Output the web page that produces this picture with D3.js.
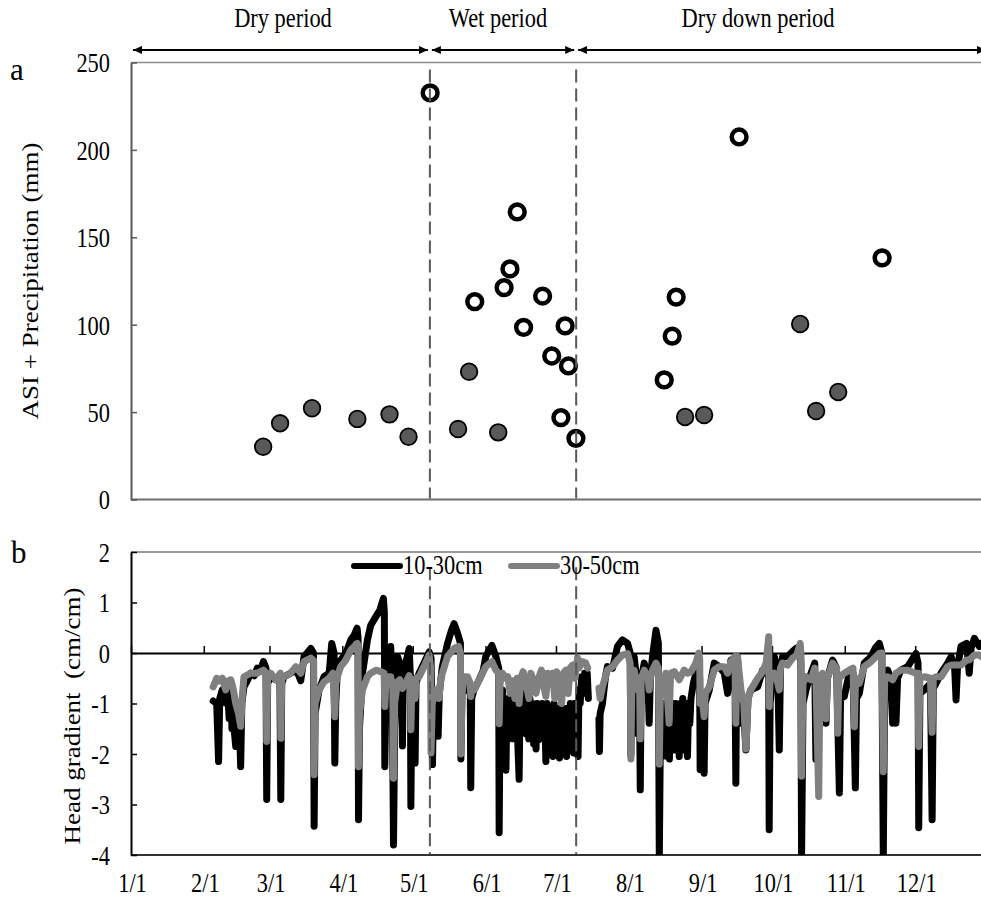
<!DOCTYPE html>
<html>
<head>
<meta charset="utf-8">
<script src="https://cdn.jsdelivr.net/npm/d3@7"></script>
<style>
  body { margin: 0; background: #fff; }
  svg { display: block; }
</style>
</head>
<body>
<svg id="chart" width="981" height="898"></svg>
<script>
// ---- data (day of year, value) ----
var monthLabels = ["1/1","2/1","3/1","4/1","5/1","6/1","7/1","8/1","9/1","10/1","11/1","12/1"];
var periodNames = ["Dry period", "Wet period", "Dry down period"];
var periodStart = [0, 127.3, 189.6];
var periodEnd   = [127.3, 189.6, 365];
var periodBreaks = [127.3, 189.6];

// ASI + precipitation events, filled and open markers
var filledDoy = [56.3, 63.5, 77.1, 96.4, 110.1, 118.2, 139.3, 144.0, 156.4, 236.0, 244.1, 285.0, 291.8, 301.2];
var filledAsi = [30.2, 43.6, 52.2, 46.1, 48.7, 35.9, 40.3, 73.1, 38.4, 47.2, 48.3, 100.4, 50.6, 61.5];
var openDoy = [127.4, 146.4, 158.9, 161.4, 164.5, 167.2, 175.3, 179.2, 183.1, 184.9, 186.3, 189.5, 227.1, 230.5, 232.2, 259.0, 319.9];
var openAsi = [232.6, 113.2, 121.2, 131.9, 164.5, 98.5, 116.4, 82.1, 46.8, 99.3, 76.4, 35.0, 68.4, 93.5, 115.8, 207.4, 138.2];

var seriesNames = ["10-30cm", "30-50cm"];
var seriesColors = ["#000000", "#808080"];

// head gradient, 10-30 cm  [day of year, cm/cm]
var grad1030 = [
[35.0,-0.95],[36.5,-1.0],[37.3,-2.15],[37.8,-0.9],[38.9,-0.73],[40.3,-0.99],[41.2,-0.8],[41.8,-1.3],[42.5,-0.73],[43.0,-1.5],[43.5,-1.0],[44.1,-1.6],[44.6,-1.85],[45.1,-1.2],[45.6,-1.7],[46.1,-1.3],[46.7,-2.25],[47.2,-1.0],[48.1,-0.67],[49.5,-0.55],[51.0,-0.4],[52.5,-0.45],[53.8,-0.3],[55.0,-0.35],[56.4,-0.17],[57.5,-0.3],[57.8,-2.9],[58.2,-0.6],[59.5,-0.47],[61.6,-0.53],[63.4,-0.45],[63.8,-2.9],[64.2,-0.6],[65.2,-0.47],[68.0,-0.4],[70.2,-0.34],[71.5,-0.45],[72.3,-0.55],[73.7,-0.07],[75.0,0.0],[76.6,0.09],[77.7,0.0],[78.0,-3.43],[78.4,-1.2],[80.1,-0.73],[82.2,-0.47],[84.4,-0.4],[85.5,0.19],[86.5,0.0],[86.8,-2.18],[87.2,-1.0],[87.9,-0.34],[89.3,-0.14],[91.5,-0.01],[93.6,0.26],[95.0,0.35],[96.3,0.49],[96.7,0.3],[96.9,-3.3],[97.3,-1.5],[98.6,-0.4],[100.7,0.26],[102.1,0.55],[104.3,0.72],[106.0,0.85],[107.5,1.08],[107.9,0.8],[108.1,-2.25],[108.5,-1.0],[109.2,-0.3],[110.6,0.13],[111.3,-0.8],[111.8,-3.8],[112.3,-1.5],[113.5,-0.07],[114.5,-0.2],[115.4,-0.3],[115.6,-1.84],[116.0,-0.4],[117.0,-0.2],[118.5,0.09],[119.0,-0.5],[119.2,-3.04],[119.6,-1.0],[120.5,-0.5],[121.0,-2.18],[121.4,-0.6],[122.7,-0.4],[124.8,-0.2],[127.0,0.02],[127.8,-0.1],[128.4,-2.21],[128.8,-1.0],[129.8,-0.9],[130.8,-1.65],[131.3,-0.8],[132.6,-0.27],[134.8,0.19],[136.5,0.45],[137.6,0.58],[139.0,0.4],[140.3,0.2],[140.5,-2.1],[141.0,-0.7],[141.9,-0.6],[143.3,-0.73],[144.5,-0.8],[144.7,-2.67],[145.1,-0.9],[146.1,-0.73],[148.3,-0.53],[150.0,-0.35],[151.1,-0.07],[153.7,0.15],[155.4,-0.07],[156.6,-0.3],[156.8,-3.56],[157.2,-1.0],
[158.2,-0.73],[158.8,-1.3],[159.3,-0.9],[159.7,-2.32],[160.1,-1.0],[160.6,-1.6],[161.0,-0.9],[161.5,-1.4],[162.0,-0.85],[162.5,-1.7],[163.0,-1.0],[163.5,-1.5],[164.0,-0.9],[164.6,-1.6],[165.3,-2.5],[165.7,-1.0],[166.2,-1.4],[166.8,-0.8],[167.3,-1.3],[167.8,-0.9],[168.3,-1.6],[168.8,-1.0],[169.4,-1.7],[169.9,-0.9],[170.4,-1.4],[171.0,-1.0],[171.5,-1.8],[172.0,-1.1],[172.5,-1.9],[173.0,-1.0],[173.6,-1.72],[174.1,-1.1],[174.6,-1.5],[175.1,-1.0],[175.6,-1.6],[176.2,-1.1],[176.7,-2.15],[177.2,-1.0],[177.7,-1.8],[178.2,-1.2],[178.8,-1.9],[179.3,-1.1],[179.7,-2.05],[180.2,-1.0],[180.7,-1.7],[181.2,-1.2],[181.7,-1.8],[182.1,-1.1],[182.5,-2.08],[183.0,-1.1],[183.5,-1.7],[184.0,-1.2],[184.6,-1.8],[185.1,-1.1],[185.5,-2.05],[186.0,-1.1],[186.6,-1.6],[187.1,-1.0],[187.6,-1.8],[188.1,-1.2],[188.5,-1.98],[189.0,-1.0],[189.5,-1.5],[190.0,-1.1],[190.4,-2.05],[190.8,-0.73],[191.3,-1.0],[192.0,-0.47],[192.5,-0.8],[193.2,-0.4],[193.7,-0.6],[194.3,-0.4],[194.8,-0.9],[196.0,null],
[199.3,-1.3],[199.5,-1.95],[199.8,-1.2],[200.8,-1.0],[202.0,-0.5],[202.9,-0.27],[205.1,-0.3],[207.2,0.13],[209.3,0.26],[211.5,0.19],[212.6,0.0],[212.9,-2.02],[213.3,-0.5],[214.3,-0.07],[215.3,-0.5],[215.7,-1.6],[216.6,-1.0],[216.9,-2.71],[217.3,-0.5],[218.6,-0.2],[220.2,-0.6],[220.7,-1.39],[221.2,-0.5],[222.1,-0.07],[223.6,0.45],[224.6,0.2],[225.0,-4.05],[225.4,-2.0],[225.8,-1.2],[226.3,-2.05],[226.8,-1.0],[227.3,-1.9],[227.8,-1.1],[228.3,-2.05],[228.8,-1.0],[229.3,-2.1],[229.8,-1.2],[230.3,-1.8],[230.8,-1.0],[231.4,-1.92],[231.9,-1.0],[232.4,-1.7],[232.9,-1.1],[233.5,-2.05],[234.0,-1.0],[234.5,-1.6],[235.0,-0.9],[235.6,-1.92],[236.1,-1.0],[236.6,-1.5],[237.0,-2.05],[237.5,-1.0],[238.0,-1.4],[238.5,-0.9],[239.5,-0.6],[240.6,-0.4],[241.8,-0.2],[242.2,-0.5],[242.4,-2.31],[242.8,-1.0],[244.1,-2.38],[244.5,-1.0],[246.3,-0.73],[248.4,-0.2],[250.5,-0.27],[252.7,-0.4],[254.1,-0.8],[255.5,-0.14],[257.2,-0.1],[257.6,-2.58],[258.0,-0.1],[258.3,-0.07],[259.8,-1.39],[261.0,-1.2],[261.9,-1.92],[262.8,-0.9],[264.0,-0.73],[266.9,-0.67],[269.0,-0.34],[270.5,-0.3],[271.6,-0.5],[271.8,-3.5],[272.2,-1.0],[274.0,-0.07],[275.5,-0.5],[276.1,-1.92],[276.6,-0.3],[277.5,-0.07],[279.6,-0.07],[281.8,0.03],[283.5,0.1],[285.0,0.1],[285.3,-0.2],[285.6,-4.05],[286.2,-1.0],[287.5,-0.73],[289.6,-0.4],[291.2,-0.2],[291.7,-2.11],[292.2,-0.8],[293.5,-0.5],[295.0,-0.8],[296.0,-1.39],[296.6,-0.5],[298.8,-0.14],[300.5,-0.3],[301.7,-2.77],[302.2,-0.9],[303.8,-0.86],[305.9,-0.4],[307.5,-0.4],[308.5,-2.67],[309.0,-0.9],[310.2,-0.8],[312.3,-0.2],[315.2,-0.07],[317.0,0.1],[318.7,0.19],[319.8,0.0],[320.4,-4.05],[321.0,-0.6],[322.3,-0.34],[323.5,-0.5],[324.4,-1.39],[325.2,-0.6],[325.8,-1.39],[326.5,-0.5],[327.9,-0.34],[330.8,-0.27],[334.3,-0.01],[335.2,-0.2],[335.5,-3.46],[336.0,-0.8],[337.9,-0.73],[340.5,-0.6],[341.2,-3.3],[341.7,-0.7],[342.9,-0.6],[345.0,-0.4],[347.8,-0.2],[349.3,-0.07],[350.8,-0.3],[351.4,-0.93],[352.0,-0.3],[353.5,0.13],[355.9,0.19],[357.0,-0.4],[357.8,0.1],[359.2,0.29],[361.3,0.13],[362.5,0.2]
];

// head gradient, 30-50 cm
var grad3050 = [
[35.0,-0.67],[36.5,-0.5],[37.5,-0.55],[38.9,-0.5],[40.3,-0.73],[41.5,-0.55],[42.5,-0.53],[43.5,-0.7],[44.6,-1.0],[45.8,-1.2],[46.7,-1.45],[47.5,-0.8],[48.1,-0.47],[51.0,-0.4],[53.8,-0.4],[56.4,-0.34],[57.6,-0.4],[57.8,-1.75],[58.2,-0.5],[59.5,-0.4],[61.6,-0.53],[63.6,-0.4],[63.8,-1.69],[64.2,-0.5],[65.2,-0.47],[68.0,-0.4],[70.2,-0.27],[72.3,-0.4],[73.7,-0.17],[76.6,-0.1],[77.8,-0.15],[78.0,-2.41],[78.4,-1.0],[80.1,-0.73],[82.2,-0.57],[84.4,-0.5],[86.0,-0.4],[86.8,-1.26],[87.2,-0.6],[87.9,-0.47],[89.3,-0.27],[91.5,-0.14],[93.6,0.06],[96.4,0.19],[96.7,0.1],[96.9,-2.25],[97.3,-1.2],[98.6,-0.73],[100.7,-0.47],[102.1,-0.4],[104.3,-0.34],[106.4,-0.37],[107.8,-0.4],[108.1,-1.06],[108.5,-0.6],[109.2,-0.47],[110.6,-0.47],[111.5,-0.7],[111.8,-2.48],[112.3,-1.0],[113.5,-0.57],[114.5,-0.53],[115.6,-0.7],[117.0,-0.6],[118.5,-0.45],[119.0,-0.6],[119.2,-1.52],[119.6,-0.7],[121.0,-0.9],[121.4,-0.5],[122.7,-0.47],[124.8,-0.27],[127.0,-0.04],[127.6,-0.3],[127.8,-1.98],[128.3,-1.0],[129.8,-0.73],[131.2,-0.9],[132.0,-0.5],[132.6,-0.4],[134.8,-0.07],[137.6,0.09],[139.5,0.13],[140.3,0.0],[140.5,-2.0],[141.0,-0.8],[141.9,-0.47],[143.3,-0.47],[144.5,-0.6],[144.7,-0.86],[145.2,-0.7],[146.1,-0.73],[148.3,-0.53],[151.1,-0.27],[153.7,-0.17],[155.4,-0.34],[156.6,-0.4],[156.8,-1.4],[157.2,-0.6],[158.2,-0.4],[159.7,-0.5],[160.5,-0.47],[161.5,-0.8],[162.5,-0.55],[163.5,-0.9],[164.5,-0.5],[165.3,-1.0],[166.0,-0.5],[167.0,-0.37],[168.2,-0.6],[169.5,-0.9],[170.3,-0.4],[171.0,-0.5],[172.5,-0.8],[173.8,-0.47],[174.8,-0.34],[175.5,-0.6],[176.7,-0.86],[177.5,-0.4],[178.5,-0.6],[179.5,-0.4],[180.5,-0.9],[181.3,-0.37],[182.4,-0.5],[183.4,-1.0],[184.2,-0.4],[185.2,-0.34],[186.2,-0.8],[187.0,-0.3],[188.0,-0.24],[189.0,-0.5],[190.2,-0.1],[190.8,-0.3],[192.0,-0.17],[193.7,-0.2],[194.5,-0.3],[196.0,null],
[199.3,-0.7],[199.8,-0.9],[200.8,-0.67],[202.9,-0.34],[205.1,-0.27],[207.2,-0.14],[209.3,-0.04],[211.5,-0.01],[212.6,-0.2],[212.9,-2.1],[213.3,-0.6],[214.3,-0.34],[215.3,-0.6],[215.7,-0.73],[216.6,-0.5],[216.9,-1.7],[217.3,-0.5],[218.6,-0.34],[220.2,-0.5],[220.7,-0.73],[221.2,-0.5],[222.1,-0.34],[223.6,-0.2],[224.6,-0.3],[225.0,-2.2],[225.4,-0.9],[226.4,-0.73],[227.8,-0.4],[229.2,-1.39],[229.8,-0.4],[231.4,-0.37],[233.5,-0.53],[235.6,-0.34],[237.0,-0.4],[238.5,-0.37],[240.6,-0.2],[241.8,0.0],[242.2,-0.1],[242.4,-1.0],[243.0,-0.8],[244.1,-1.26],[244.6,-0.8],[246.3,-0.67],[248.4,-0.34],[250.5,-0.27],[252.7,-0.27],[254.1,-0.4],[255.5,-0.17],[257.2,-0.07],[257.6,-1.39],[258.0,-0.2],[258.3,-0.07],[259.8,-0.73],[261.0,-1.0],[261.9,-1.9],[262.8,-0.9],[264.0,-0.73],[266.9,-0.5],[269.0,-0.37],[270.5,-0.2],[271.6,0.32],[271.8,-1.06],[272.2,-0.5],[274.0,-0.4],[275.5,-0.6],[276.1,-0.73],[276.6,-0.3],[277.5,-0.2],[279.6,-0.24],[281.8,-0.1],[283.5,-0.05],[285.0,0.19],[285.3,0.0],[285.6,-2.44],[286.2,-0.6],[287.5,-0.47],[289.6,-0.53],[291.2,-0.3],[291.7,-0.5],[292.9,-2.84],[293.4,-0.6],[294.5,-0.4],[296.0,-1.3],[296.6,-0.5],[298.8,-0.2],[300.5,-0.3],[301.0,-1.59],[301.5,-0.5],[303.8,-0.4],[305.9,-0.34],[307.5,-0.3],[308.1,-1.46],[308.6,-0.5],[310.2,-0.6],[312.3,-0.27],[315.2,-0.17],[318.7,-0.01],[319.8,0.0],[320.4,-2.35],[321.0,-0.5],[322.3,-0.47],[324.4,-0.53],[325.8,-0.4],[327.9,-0.34],[330.8,-0.34],[334.3,-0.4],[335.2,-0.4],[335.5,-1.85],[336.0,-0.5],[337.9,-0.47],[340.5,-0.5],[341.2,-1.57],[341.7,-0.5],[342.9,-0.47],[345.0,-0.47],[347.8,-0.27],[349.3,-0.24],[351.4,-0.24],[353.5,-0.24],[355.9,-0.14],[357.0,-0.14],[359.2,-0.04],[361.3,-0.04],[362.5,-0.08]
];

// ---- setup ----
var svg = d3.select("#chart");
var font = "'Liberation Serif', 'Times New Roman', serif";
var sx = 0.83;   // the figure is a bit squeezed horizontally
var day0 = new Date(2013, 0, 1);
function toDate(doy) { return new Date(day0.getTime() + doy * 864e5); }

var x = d3.scaleTime().domain([day0, new Date(2014, 0, 1)]).range([131, 988]);
var yTop = d3.scaleLinear().domain([0, 250]).range([499.5, 62.5]);
var yBot = d3.scaleLinear().domain([-4, 2]).range([855, 552]);

function label(g, px, py, str, anchor) {
  return g.append("text")
    .attr("transform", "translate(" + px + "," + py + ") scale(" + sx + ",1)")
    .attr("text-anchor", anchor || "start")
    .attr("font-family", font)
    .attr("font-size", 27)
    .attr("fill", "#000")
    .text(str);
}
function vlabel(g, px, py, str) {
  return g.append("text")
    .attr("transform", "translate(" + px + "," + py + ") rotate(-90) scale(1," + sx + ")")
    .attr("text-anchor", "middle")
    .attr("font-family", font)
    .attr("font-size", 27)
    .style("white-space", "pre")
    .attr("fill", "#000")
    .text(str);
}
function panelLetter(px, py, str) {
  svg.append("text").attr("x", px).attr("y", py)
    .attr("font-family", font).attr("font-size", 31).attr("fill", "#000")
    .text(str);
}

var defs = svg.append("defs");
defs.append("clipPath").attr("id", "clipB")
  .append("rect").attr("x", 131).attr("y", 552).attr("width", 860).attr("height", 303);
defs.append("marker").attr("id", "ah")
  .attr("viewBox", "0 0 10 10").attr("refX", 10).attr("refY", 5)
  .attr("markerWidth", 9).attr("markerHeight", 9)
  .attr("markerUnits", "userSpaceOnUse")
  .attr("orient", "auto-start-reverse")
  .append("path").attr("d", "M0,0.5L10,5L0,9.5Z").attr("fill", "#000");

// ---- panel a ----
var panelA = svg.append("g");
panelA.append("line").attr("x1", 131).attr("x2", 988).attr("y1", yTop(250)).attr("y2", yTop(250))
  .attr("stroke", "#8c8c8c").attr("stroke-width", 1.5);
panelA.append("line").attr("x1", 131).attr("x2", 988).attr("y1", yTop(0)).attr("y2", yTop(0))
  .attr("stroke", "#6e6e6e").attr("stroke-width", 2);

var yAxA = panelA.append("g").attr("transform", "translate(131,0)")
  .call(d3.axisLeft(yTop).tickValues([0, 50, 100, 150, 200, 250]).tickSizeInner(-6).tickSizeOuter(0));
yAxA.select(".domain").attr("stroke", "#595959").attr("stroke-width", 2);
yAxA.selectAll(".tick line").attr("stroke", "#595959").attr("stroke-width", 1.5);
yAxA.selectAll(".tick text")
  .attr("x", null).attr("dy", "0.35em")
  .attr("transform", "translate(-21,0) scale(" + sx + ",1)")
  .attr("font-family", font).attr("font-size", 27).attr("fill", "#000");

panelA.selectAll("circle.filled")
  .data(filledDoy.map(function(d, i) { return [d, filledAsi[i]]; }))
  .enter().append("circle").attr("class", "filled")
  .attr("cx", function(d) { return x(toDate(d[0])); })
  .attr("cy", function(d) { return yTop(d[1]); })
  .attr("r", 8.3)
  .attr("fill", "#595959").attr("stroke", "#000").attr("stroke-width", 1.8);

panelA.selectAll("circle.open")
  .data(openDoy.map(function(d, i) { return [d, openAsi[i]]; }))
  .enter().append("circle").attr("class", "open")
  .attr("cx", function(d) { return x(toDate(d[0])); })
  .attr("cy", function(d) { return yTop(d[1]); })
  .attr("r", 7.4)
  .attr("fill", "#fff").attr("stroke", "#000").attr("stroke-width", 4.5);

panelA.selectAll("line.brk").data(periodBreaks).enter().append("line").attr("class", "brk")
  .attr("x1", function(d) { return x(toDate(d)); }).attr("x2", function(d) { return x(toDate(d)); })
  .attr("y1", yTop(246)).attr("y2", yTop(0) - 1)
  .attr("stroke", "#595959").attr("stroke-width", 2).attr("stroke-dasharray", "13,6");

// period arrows + labels
periodNames.forEach(function(name, i) {
  var a = x(toDate(periodStart[i])), b = x(toDate(periodEnd[i]));
  svg.append("line").attr("x1", a + 2).attr("x2", b - 2).attr("y1", 50).attr("y2", 50)
    .attr("stroke", "#000").attr("stroke-width", 2)
    .attr("marker-start", "url(#ah)").attr("marker-end", "url(#ah)");
});
label(svg, 283, 27, periodNames[0], "middle");
label(svg, 498, 27, periodNames[1], "middle");
label(svg, 758, 27, periodNames[2], "middle");

panelLetter(10, 80, "a");
vlabel(svg, 38, 281, "ASI + Precipitation (mm)");

// ---- panel b ----
var panelB = svg.append("g");
panelB.append("line").attr("x1", 131).attr("x2", 988).attr("y1", yBot(2)).attr("y2", yBot(2))
  .attr("stroke", "#7a7a7a").attr("stroke-width", 1.5);
panelB.append("line").attr("x1", 131).attr("x2", 988).attr("y1", yBot(-4)).attr("y2", yBot(-4))
  .attr("stroke", "#333").attr("stroke-width", 2);

var monthDates = monthLabels.map(function(m, i) { return new Date(2013, i, 1); });

// zero line with upward ticks (under the data)
var zeroAx = panelB.append("g").attr("transform", "translate(0," + yBot(0) + ")")
  .call(d3.axisBottom(x).tickValues(monthDates).tickSizeInner(-7).tickSizeOuter(0).tickFormat(""));
zeroAx.select(".domain").attr("stroke", "#000").attr("stroke-width", 2);
zeroAx.selectAll(".tick line").attr("stroke", "#000").attr("stroke-width", 1.5);

var line = d3.line()
  .defined(function(d) { return d[1] !== null; })
  .x(function(d) { return x(toDate(d[0])); })
  .y(function(d) { return yBot(d[1]); });

var plotB = panelB.append("g").attr("clip-path", "url(#clipB)");
[grad1030, grad3050].forEach(function(s, i) {
  plotB.append("path").datum(s)
    .attr("d", line)
    .attr("fill", "none")
    .attr("stroke", seriesColors[i])
    .attr("stroke-width", 7)
    .attr("stroke-linejoin", "round")
    .attr("stroke-linecap", "round");
});

// month labels under the panel
var xAx = panelB.append("g").attr("transform", "translate(0," + yBot(-4) + ")")
  .call(d3.axisBottom(x).tickValues(monthDates).tickSize(0)
    .tickFormat(function(d, i) { return monthLabels[i]; }));
xAx.select(".domain").remove();
xAx.selectAll(".tick text")
  .attr("y", null).attr("dy", null)
  .attr("transform", "translate(1,37) scale(" + sx + ",1)")
  .attr("font-family", font).attr("font-size", 27).attr("fill", "#000");

var yAxB = panelB.append("g").attr("transform", "translate(131,0)")
  .call(d3.axisLeft(yBot).tickValues([-4, -3, -2, -1, 0, 1, 2]).tickSizeInner(-6).tickSizeOuter(0)
    .tickFormat(function(d) { return String(d); }));
yAxB.select(".domain").attr("stroke", "#000").attr("stroke-width", 2);
yAxB.selectAll(".tick line").attr("stroke", "#000").attr("stroke-width", 1.5);
yAxB.selectAll(".tick text")
  .attr("x", null).attr("dy", "0.35em")
  .attr("transform", "translate(-21,0) scale(" + sx + ",1)")
  .attr("font-family", font).attr("font-size", 27).attr("fill", "#000");

panelB.selectAll("line.brk").data(periodBreaks).enter().append("line").attr("class", "brk")
  .attr("x1", function(d) { return x(toDate(d)); }).attr("x2", function(d) { return x(toDate(d)); })
  .attr("y1", yBot(1.7)).attr("y2", yBot(-4) - 1)
  .attr("stroke", "#595959").attr("stroke-width", 2).attr("stroke-dasharray", "13,6");

// legend
var legX = [354, 511];
seriesNames.forEach(function(n, i) {
  panelB.append("line").attr("x1", legX[i]).attr("x2", legX[i] + 46).attr("y1", 566).attr("y2", 566)
    .attr("stroke", seriesColors[i]).attr("stroke-width", 6).attr("stroke-linecap", "round");
  label(panelB, legX[i] + 49, 574, n, "start");
});

panelLetter(11, 563, "b");
vlabel(svg, 80, 716, "Head gradient  (cm/cm)");
</script>
</body>
</html>
